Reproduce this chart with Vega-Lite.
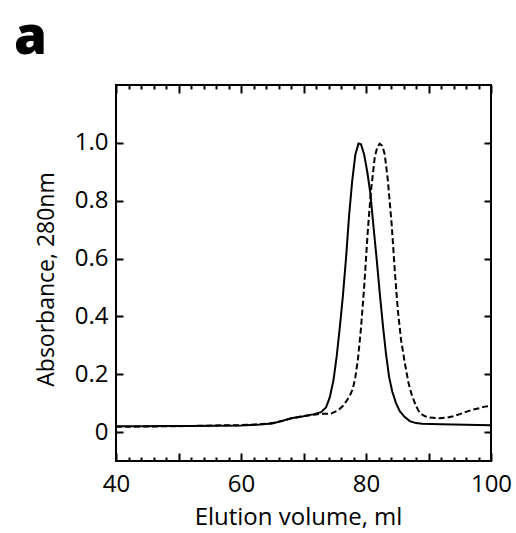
{
  "$schema": "https://vega.github.io/schema/vega-lite/v6.json",
  "width": 375,
  "height": 376,
  "autosize": {"type": "none"},
  "padding": {"left": 116, "top": 85, "right": 25, "bottom": 72},
  "background": "white",
  "config": {
    "font": "Open Sans",
    "view": {"stroke": "black", "strokeWidth": 2},
    "axis": {"grid": false, "domain": false, "tickColor": "black", "tickWidth": 2, "labelColor": "black", "titleColor": "black", "labelFont": "Open Sans", "titleFont": "Open Sans", "labelFontSize": 24, "titleFontSize": 24, "titleFontWeight": "normal"}
  },
  "title": {"text": "a", "anchor": "start", "frame": "group", "fontSize": 53, "fontWeight": 800, "font": "Open Sans", "color": "black", "baseline": "alphabetic", "offset": 0, "dy": 23, "dx": -102},
  "datasets": {
    "solid": [
      {"v": 40, "a": 0.020}, {"v": 44, "a": 0.020}, {"v": 48, "a": 0.021}, {"v": 52, "a": 0.021},
      {"v": 56, "a": 0.022}, {"v": 60, "a": 0.023}, {"v": 63, "a": 0.026}, {"v": 65, "a": 0.030},
      {"v": 66.5, "a": 0.038}, {"v": 68, "a": 0.048}, {"v": 70, "a": 0.055}, {"v": 71.7, "a": 0.062},
      {"v": 72.8, "a": 0.069}, {"v": 73.6, "a": 0.085}, {"v": 74.2, "a": 0.12}, {"v": 74.8, "a": 0.18},
      {"v": 75.3, "a": 0.26}, {"v": 75.8, "a": 0.36}, {"v": 76.3, "a": 0.47}, {"v": 76.8, "a": 0.60},
      {"v": 77.3, "a": 0.75}, {"v": 77.8, "a": 0.87}, {"v": 78.3, "a": 0.96}, {"v": 78.8, "a": 0.998},
      {"v": 79.2, "a": 0.995}, {"v": 79.7, "a": 0.96}, {"v": 80.2, "a": 0.9}, {"v": 80.7, "a": 0.825},
      {"v": 81.2, "a": 0.71}, {"v": 81.7, "a": 0.6}, {"v": 82.2, "a": 0.48}, {"v": 82.7, "a": 0.37},
      {"v": 83.2, "a": 0.27}, {"v": 83.7, "a": 0.19}, {"v": 84.2, "a": 0.14}, {"v": 84.8, "a": 0.1},
      {"v": 85.4, "a": 0.072}, {"v": 86.2, "a": 0.052}, {"v": 87, "a": 0.038}, {"v": 88, "a": 0.031},
      {"v": 89, "a": 0.029}, {"v": 92, "a": 0.027}, {"v": 96, "a": 0.025}, {"v": 100, "a": 0.024}
    ],
    "dashed": [
      {"v": 40, "a": 0.018}, {"v": 44, "a": 0.019}, {"v": 48, "a": 0.020}, {"v": 52, "a": 0.021},
      {"v": 56, "a": 0.023}, {"v": 60, "a": 0.024}, {"v": 63, "a": 0.027}, {"v": 65, "a": 0.031},
      {"v": 66.5, "a": 0.038}, {"v": 68, "a": 0.047}, {"v": 70, "a": 0.055}, {"v": 71.7, "a": 0.060},
      {"v": 72.8, "a": 0.063}, {"v": 74.4, "a": 0.064}, {"v": 75.5, "a": 0.075}, {"v": 76.3, "a": 0.09},
      {"v": 76.8, "a": 0.105}, {"v": 77.4, "a": 0.125}, {"v": 77.9, "a": 0.15}, {"v": 78.3, "a": 0.19},
      {"v": 78.7, "a": 0.25}, {"v": 79.2, "a": 0.36}, {"v": 79.7, "a": 0.5}, {"v": 80.0, "a": 0.6},
      {"v": 80.3, "a": 0.7}, {"v": 80.8, "a": 0.835}, {"v": 81.4, "a": 0.95}, {"v": 81.8, "a": 0.985},
      {"v": 82.2, "a": 0.997}, {"v": 82.6, "a": 0.99}, {"v": 83.0, "a": 0.96}, {"v": 83.5, "a": 0.87},
      {"v": 84.1, "a": 0.72}, {"v": 84.6, "a": 0.56}, {"v": 85.1, "a": 0.42}, {"v": 85.6, "a": 0.32},
      {"v": 86.2, "a": 0.24}, {"v": 86.8, "a": 0.17}, {"v": 87.3, "a": 0.13}, {"v": 88.0, "a": 0.09},
      {"v": 88.6, "a": 0.066}, {"v": 89.4, "a": 0.055}, {"v": 90.2, "a": 0.05}, {"v": 91.8, "a": 0.048},
      {"v": 93, "a": 0.05}, {"v": 94, "a": 0.055}, {"v": 95, "a": 0.062}, {"v": 96, "a": 0.07},
      {"v": 97, "a": 0.077}, {"v": 98.2, "a": 0.083}, {"v": 99, "a": 0.088}, {"v": 100, "a": 0.09}
    ]
  },
  "resolve": {"axis": {"x": "independent", "y": "independent"}},
  "layer": [
    {
      "data": {"name": "solid"},
      "mark": {"type": "line", "color": "black", "strokeWidth": 2, "clip": true},
      "encoding": {
        "x": {"field": "v", "type": "quantitative", "scale": {"domain": [40, 100], "nice": false, "zero": false},
          "axis": {"orient": "bottom", "values": [40, 50, 60, 70, 80, 90, 100], "tickSize": -8, "labelPadding": 19,
            "labelExpr": "datum.value % 20 == 0 ? datum.label : ''", "labelFlush": false,
            "title": "Elution volume, ml", "titleX": 182, "titleY": 63, "titleBaseline": "alphabetic"}},
        "y": {"field": "a", "type": "quantitative", "scale": {"domain": [-0.1, 1.2], "nice": false, "zero": false},
          "axis": {"orient": "left", "values": [0, 0.2, 0.4, 0.6, 0.8, 1.0], "tickSize": -7, "labelPadding": 15,
            "labelExpr": "datum.value == 0 ? '0' : format(datum.value, '.1f')", "labelFlush": false,
            "title": "Absorbance, 280nm", "titleFontSize": 23, "titleX": -63, "titleY": 194, "titleBaseline": "alphabetic"}}
      }
    },
    {
      "data": {"name": "dashed"},
      "mark": {"type": "line", "color": "black", "strokeWidth": 2, "strokeDash": [6, 3], "clip": true},
      "encoding": {
        "x": {"field": "v", "type": "quantitative",
          "axis": {"orient": "top", "values": [40, 50, 60, 70, 80, 90, 100], "tickSize": -8, "labels": false, "title": null}},
        "y": {"field": "a", "type": "quantitative",
          "axis": {"orient": "right", "values": [0, 0.2, 0.4, 0.6, 0.8, 1.0], "tickSize": -7, "labels": false, "title": null}}
      }
    },
    {
      "data": {"name": "solid"},
      "mark": {"type": "line", "strokeOpacity": 0},
      "encoding": {
        "x": {"field": "v", "type": "quantitative",
          "axis": {"orient": "bottom", "values": [42, 44, 46, 48, 52, 54, 56, 58, 62, 64, 66, 68, 72, 74, 76, 78, 82, 84, 86, 88, 92, 94, 96, 98], "tickSize": -4, "labels": false, "title": null}},
        "y": {"field": "a", "type": "quantitative", "axis": null}
      }
    },
    {
      "data": {"name": "solid"},
      "mark": {"type": "line", "strokeOpacity": 0},
      "encoding": {
        "x": {"field": "v", "type": "quantitative",
          "axis": {"orient": "top", "values": [42, 44, 46, 48, 52, 54, 56, 58, 62, 64, 66, 68, 72, 74, 76, 78, 82, 84, 86, 88, 92, 94, 96, 98], "tickSize": -4, "labels": false, "title": null}},
        "y": {"field": "a", "type": "quantitative", "axis": null}
      }
    }
  ]
}
